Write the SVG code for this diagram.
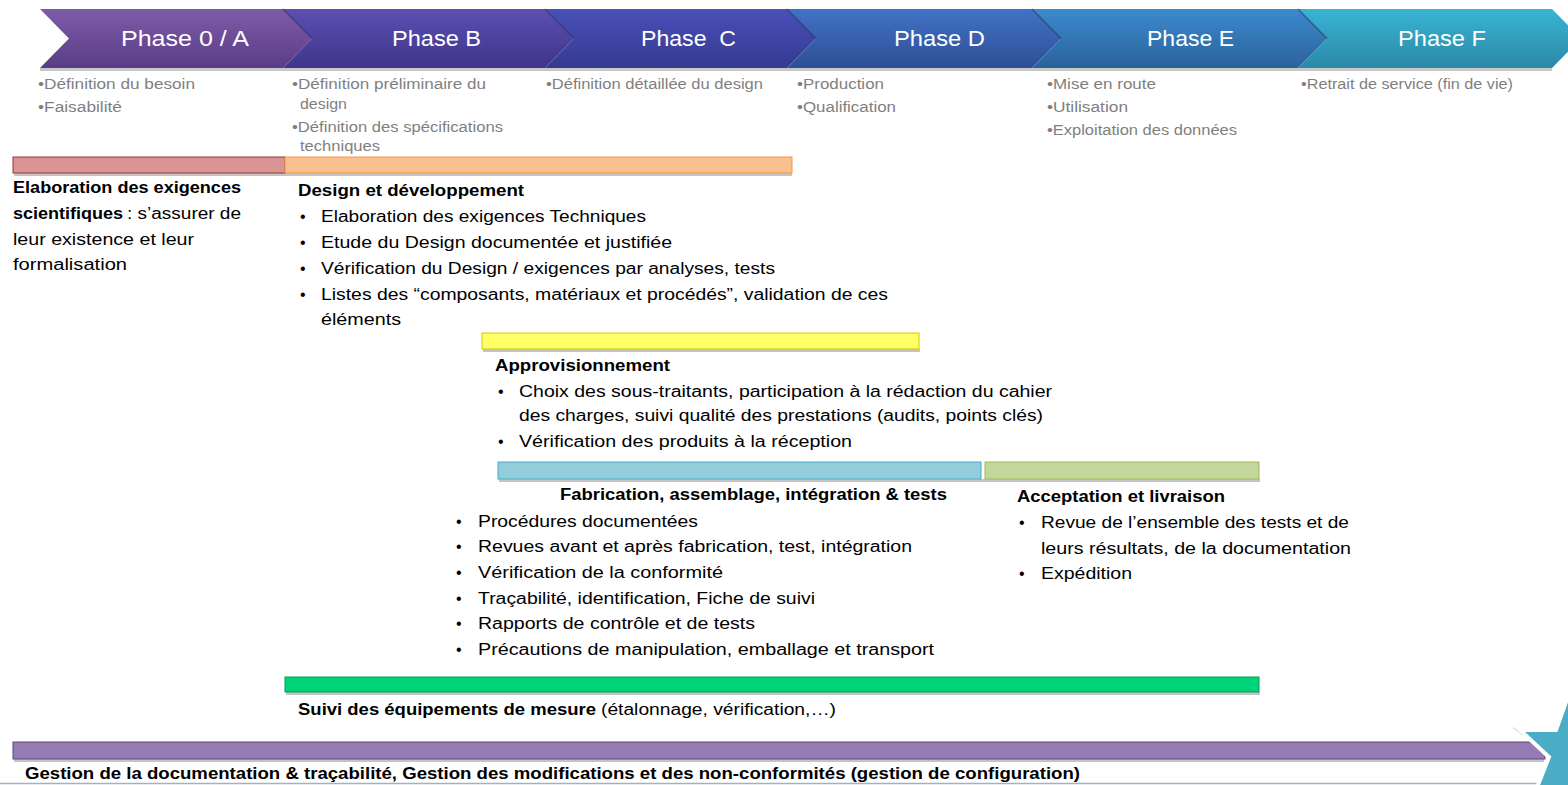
<svg xmlns="http://www.w3.org/2000/svg" width="1568" height="785" viewBox="0 0 1568 785">
<defs>
<linearGradient id="g0" x1="0" y1="0" x2="0" y2="1"><stop offset="0" stop-color="#7e5ba9"/><stop offset="1" stop-color="#5a3d86"/></linearGradient>
<linearGradient id="g1" x1="0" y1="0" x2="0" y2="1"><stop offset="0" stop-color="#5b4fb1"/><stop offset="1" stop-color="#3f3589"/></linearGradient>
<linearGradient id="g2" x1="0" y1="0" x2="0" y2="1"><stop offset="0" stop-color="#4a50b9"/><stop offset="1" stop-color="#343a8f"/></linearGradient>
<linearGradient id="g3" x1="0" y1="0" x2="0" y2="1"><stop offset="0" stop-color="#4272c6"/><stop offset="1" stop-color="#2d4f95"/></linearGradient>
<linearGradient id="g4" x1="0" y1="0" x2="0" y2="1"><stop offset="0" stop-color="#3b8acd"/><stop offset="1" stop-color="#2b629b"/></linearGradient>
<linearGradient id="g5" x1="0" y1="0" x2="0" y2="1"><stop offset="0" stop-color="#39b4d5"/><stop offset="1" stop-color="#2a89a6"/></linearGradient>
</defs>
<style>
.ph{font-family:"Liberation Sans",Arial,sans-serif;font-size:22px;fill:#ffffff}
.sub{font-family:"Liberation Sans",Arial,sans-serif;font-size:14px;fill:#7f7f7f}
.t{font-family:"Liberation Sans",Arial,sans-serif;font-size:16px;fill:#000000}
.b{font-family:"Liberation Sans",Arial,sans-serif;font-size:16px;font-weight:bold;fill:#000000}
.bul{font-family:"Liberation Sans",Arial,sans-serif;font-size:16px;fill:#000000}
.shadow{fill:#c4c4c4}
.edge{stroke:#1e2050;stroke-opacity:0.55;stroke-width:1.5;fill:none}
</style>
<rect width="1568" height="785" fill="#ffffff"/>

<g id="phases">
<rect x="40" y="68" width="1512" height="3" fill="#c8c8c8"/>
<g id="phase-0a"><polygon points="40,9 283,9 312,38.5 283,68 40,68 69,38.5" fill="url(#g0)"/>
<text class="ph" x="121" y="46" textLength="128" lengthAdjust="spacingAndGlyphs">Phase 0 / A</text></g>
<g id="phase-b"><polygon points="283,9 545,9 574,38.5 545,68 283,68 312,38.5" fill="url(#g1)"/>
<line class="edge" x1="283" y1="9" x2="312" y2="38.5"/>
<text class="ph" x="392" y="46" textLength="89" lengthAdjust="spacingAndGlyphs">Phase B</text></g>
<g id="phase-c"><polygon points="545,9 787,9 816,38.5 787,68 545,68 574,38.5" fill="url(#g2)"/>
<line class="edge" x1="545" y1="9" x2="574" y2="38.5"/>
<text class="ph" x="641" y="46" textLength="95" lengthAdjust="spacingAndGlyphs" xml:space="preserve">Phase  C</text></g>
<g id="phase-d"><polygon points="787,9 1032,9 1061,38.5 1032,68 787,68 816,38.5" fill="url(#g3)"/>
<line class="edge" x1="787" y1="9" x2="816" y2="38.5"/>
<text class="ph" x="894" y="46" textLength="91" lengthAdjust="spacingAndGlyphs">Phase D</text></g>
<g id="phase-e"><polygon points="1032,9 1298,9 1327,38.5 1298,68 1032,68 1061,38.5" fill="url(#g4)"/>
<line class="edge" x1="1032" y1="9" x2="1061" y2="38.5"/>
<text class="ph" x="1147" y="46" textLength="87" lengthAdjust="spacingAndGlyphs">Phase E</text></g>
<g id="phase-f"><polygon points="1298,9 1552,9 1581,38.5 1552,68 1298,68 1327,38.5" fill="url(#g5)"/>
<line class="edge" x1="1298" y1="9" x2="1327" y2="38.5"/>
<text class="ph" x="1398" y="46" textLength="88" lengthAdjust="spacingAndGlyphs">Phase F</text></g>
</g>

<g id="phase-notes">
<text class="sub" x="38" y="89" textLength="157" lengthAdjust="spacingAndGlyphs">•Définition du besoin</text>
<text class="sub" x="38" y="112" textLength="84" lengthAdjust="spacingAndGlyphs">•Faisabilité</text>
<text class="sub" x="292" y="89" textLength="194" lengthAdjust="spacingAndGlyphs">•Définition préliminaire du</text>
<text class="sub" x="300" y="109" textLength="47" lengthAdjust="spacingAndGlyphs">design</text>
<text class="sub" x="292" y="132" textLength="211" lengthAdjust="spacingAndGlyphs">•Définition des spécifications</text>
<text class="sub" x="300" y="151" textLength="80" lengthAdjust="spacingAndGlyphs">techniques</text>
<text class="sub" x="546" y="89" textLength="217" lengthAdjust="spacingAndGlyphs">•Définition détaillée du design</text>
<text class="sub" x="797" y="89" textLength="87" lengthAdjust="spacingAndGlyphs">•Production</text>
<text class="sub" x="797" y="112" textLength="99" lengthAdjust="spacingAndGlyphs">•Qualification</text>
<text class="sub" x="1047" y="89" textLength="109" lengthAdjust="spacingAndGlyphs">•Mise en route</text>
<text class="sub" x="1047" y="112" textLength="81" lengthAdjust="spacingAndGlyphs">•Utilisation</text>
<text class="sub" x="1047" y="135" textLength="190" lengthAdjust="spacingAndGlyphs">•Exploitation des données</text>
<text class="sub" x="1301" y="89" textLength="212" lengthAdjust="spacingAndGlyphs">•Retrait de service (fin de vie)</text>
</g>

<g id="bars">
<rect class="shadow" x="14" y="173" width="778" height="3"/>
<rect class="shadow" x="483" y="349" width="437" height="3"/>
<rect class="shadow" x="499" y="479" width="761" height="3"/>
<rect class="shadow" x="286" y="692" width="974" height="3"/>
<rect class="shadow" x="14" y="759" width="1530" height="3"/>
</g>

<g id="exigences-scientifiques">
<rect x="13" y="157" width="272" height="16" fill="#d99594" stroke="#943634" stroke-width="1"/>
<text class="b" x="13" y="193" textLength="228" lengthAdjust="spacingAndGlyphs">Elaboration des exigences</text>
<text class="b" x="13" y="219" textLength="110" lengthAdjust="spacingAndGlyphs">scientifiques</text>
<text class="t" x="127" y="219" textLength="114" lengthAdjust="spacingAndGlyphs">: s’assurer de</text>
<text class="t" x="13" y="245" textLength="181" lengthAdjust="spacingAndGlyphs">leur existence et leur</text>
<text class="t" x="13" y="270" textLength="114" lengthAdjust="spacingAndGlyphs">formalisation</text>
</g>

<g id="design-developpement">
<rect x="285" y="157" width="507" height="16" fill="#fac090" stroke="#f79646" stroke-width="1"/>
<text class="b" x="298" y="196" textLength="226" lengthAdjust="spacingAndGlyphs">Design et développement</text>
<text class="bul" x="300" y="222">•</text>
<text class="t" x="321" y="222" textLength="325" lengthAdjust="spacingAndGlyphs">Elaboration des exigences Techniques</text>
<text class="bul" x="300" y="248">•</text>
<text class="t" x="321" y="248" textLength="351" lengthAdjust="spacingAndGlyphs">Etude du Design documentée et justifiée</text>
<text class="bul" x="300" y="274">•</text>
<text class="t" x="321" y="274" textLength="454" lengthAdjust="spacingAndGlyphs">Vérification du Design / exigences par analyses, tests</text>
<text class="bul" x="300" y="300">•</text>
<text class="t" x="321" y="300" textLength="567" lengthAdjust="spacingAndGlyphs">Listes des “composants, matériaux et procédés”, validation de ces</text>
<text class="t" x="321" y="325" textLength="80" lengthAdjust="spacingAndGlyphs">éléments</text>
</g>

<g id="approvisionnement">
<rect x="482" y="333" width="437" height="16" fill="#ffff66" stroke="#d8c800" stroke-width="1"/>
<text class="b" x="495" y="371" textLength="175" lengthAdjust="spacingAndGlyphs">Approvisionnement</text>
<text class="bul" x="498" y="397">•</text>
<text class="t" x="519" y="397" textLength="533" lengthAdjust="spacingAndGlyphs">Choix des sous-traitants, participation à la rédaction du cahier</text>
<text class="t" x="519" y="421" textLength="524" lengthAdjust="spacingAndGlyphs">des charges, suivi qualité des prestations (audits, points clés)</text>
<text class="bul" x="498" y="447">•</text>
<text class="t" x="519" y="447" textLength="333" lengthAdjust="spacingAndGlyphs">Vérification des produits à la réception</text>
</g>

<g id="fabrication">
<rect x="498" y="462" width="483" height="17" fill="#92cddc" stroke="#4bacc6" stroke-width="1"/>
<text class="b" x="560" y="500" textLength="387" lengthAdjust="spacingAndGlyphs">Fabrication, assemblage, intégration &amp; tests</text>
<text class="bul" x="456" y="527">•</text>
<text class="t" x="478" y="527" textLength="220" lengthAdjust="spacingAndGlyphs">Procédures documentées</text>
<text class="bul" x="456" y="552">•</text>
<text class="t" x="478" y="552" textLength="434" lengthAdjust="spacingAndGlyphs">Revues avant et après fabrication, test, intégration</text>
<text class="bul" x="456" y="578">•</text>
<text class="t" x="478" y="578" textLength="245" lengthAdjust="spacingAndGlyphs">Vérification de la conformité</text>
<text class="bul" x="456" y="604">•</text>
<text class="t" x="478" y="604" textLength="337" lengthAdjust="spacingAndGlyphs">Traçabilité, identification, Fiche de suivi</text>
<text class="bul" x="456" y="629">•</text>
<text class="t" x="478" y="629" textLength="277" lengthAdjust="spacingAndGlyphs">Rapports de contrôle et de tests</text>
<text class="bul" x="456" y="655">•</text>
<text class="t" x="478" y="655" textLength="456" lengthAdjust="spacingAndGlyphs">Précautions de manipulation, emballage et transport</text>
</g>

<g id="acceptation">
<rect x="985" y="462" width="274" height="17" fill="#c3d69b" stroke="#9bbb59" stroke-width="1"/>
<text class="b" x="1017" y="502" textLength="208" lengthAdjust="spacingAndGlyphs">Acceptation et livraison</text>
<text class="bul" x="1019" y="528">•</text>
<text class="t" x="1041" y="528" textLength="308" lengthAdjust="spacingAndGlyphs">Revue de l’ensemble des tests et de</text>
<text class="t" x="1041" y="554" textLength="310" lengthAdjust="spacingAndGlyphs">leurs résultats, de la documentation</text>
<text class="bul" x="1019" y="579">•</text>
<text class="t" x="1041" y="579" textLength="91" lengthAdjust="spacingAndGlyphs">Expédition</text>
</g>

<g id="suivi-equipements">
<rect x="285" y="677" width="974" height="15" fill="#00d27a" stroke="#00a050" stroke-width="1"/>
<text class="b" x="298" y="715" textLength="298" lengthAdjust="spacingAndGlyphs">Suivi des équipements de mesure</text>
<text class="t" x="601" y="715" textLength="235" lengthAdjust="spacingAndGlyphs">(étalonnage, vérification,…)</text>
</g>

<g id="gestion-documentation">
<rect x="13" y="742" width="1532" height="17" fill="#957bb3" stroke="#5f497a" stroke-width="1"/>
<text class="b" x="25" y="779" textLength="1055" lengthAdjust="spacingAndGlyphs">Gestion de la documentation &amp; traçabilité, Gestion des modifications et des non-conformités (gestion de configuration)</text>
<line x1="0" y1="783.5" x2="1540" y2="783.5" stroke="#9fb3c8" stroke-width="1.5"/>
</g>

<g id="star">
<polygon points="1512,727 1522,731 1548,756" fill="#d0d0d0"/>
<polygon points="1520,730 1556,730 1571,688 1571,790 1536,790 1549,757" fill="#4bacc6" stroke="#ffffff" stroke-width="4" stroke-linejoin="miter"/>
</g>
</svg>
